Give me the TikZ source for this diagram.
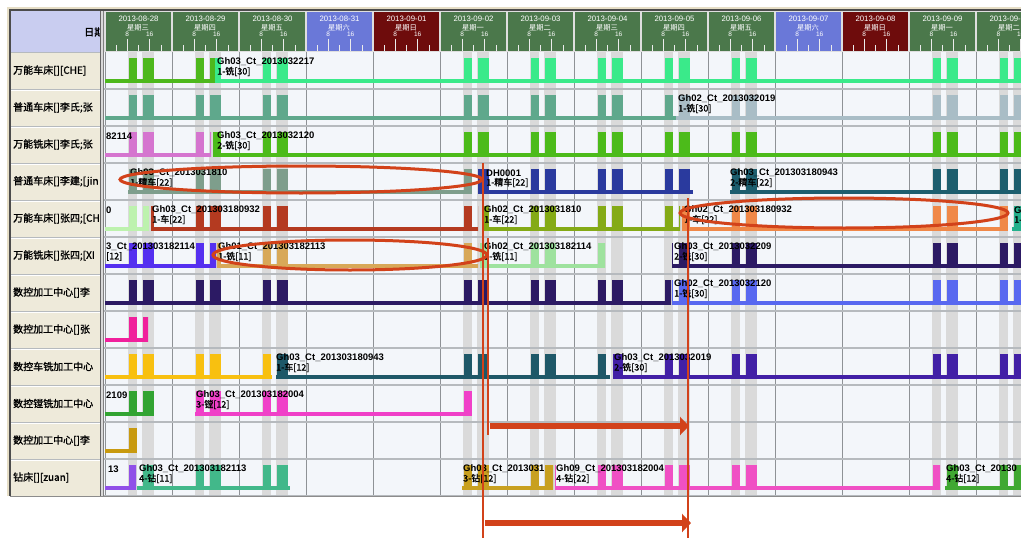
\documentclass[tikz,border=0pt]{standalone}
\usepackage{fontspec}
\newfontfamily\cjk[FakeBold=1.4]{Noto Sans CJK SC}
\newfontfamily\cjkthin{Noto Sans CJK SC}
\newfontfamily\lat{Liberation Sans}
\usetikzlibrary{arrows.meta}

% header and grid
\definecolor{wkday}{HTML}{4B784B}
\definecolor{satday}{HTML}{6A78D8}
\definecolor{sunday}{HTML}{6E0C0C}
\definecolor{cornercell}{HTML}{C9CDF0}
\definecolor{namecell}{HTML}{EEEADA}
\definecolor{chartbg}{HTML}{F3F6FA}
\definecolor{shiftgray}{HTML}{DADADA}
\definecolor{gridv}{HTML}{8E9296}
\definecolor{gridh}{HTML}{B6BABE}
\definecolor{frametan}{HTML}{E6DEC6}
\definecolor{annot}{HTML}{D2421A}
% job colours
\definecolor{c1a}{HTML}{4DB81C}\definecolor{c1b}{HTML}{3AEA8A}
\definecolor{c2a}{HTML}{5FA88C}\definecolor{c2b}{HTML}{A9BDC6}
\definecolor{c3a}{HTML}{D575CF}\definecolor{c3b}{HTML}{4CBB1A}
\definecolor{c4a}{HTML}{7E9E8C}\definecolor{c4b}{HTML}{2A3A9E}\definecolor{c4c}{HTML}{1D5E6E}
\definecolor{c5a}{HTML}{BDF2AE}\definecolor{c5b}{HTML}{B43A20}\definecolor{c5c}{HTML}{84AA16}
\definecolor{c5d}{HTML}{F08848}\definecolor{c5e}{HTML}{22B08C}
\definecolor{c6a}{HTML}{5530F0}\definecolor{c6b}{HTML}{D8A858}\definecolor{c6c}{HTML}{9EE29E}\definecolor{c6d}{HTML}{2C1A64}
\definecolor{c7a}{HTML}{2C1A64}\definecolor{c7b}{HTML}{5868F0}
\definecolor{c8a}{HTML}{F0209C}
\definecolor{c9a}{HTML}{F8C010}\definecolor{c9b}{HTML}{1E5868}\definecolor{c9c}{HTML}{4220A6}
\definecolor{c10a}{HTML}{32A432}\definecolor{c10b}{HTML}{F040C8}
\definecolor{c11a}{HTML}{C89A10}
\definecolor{c12a}{HTML}{9050E8}\definecolor{c12b}{HTML}{42B88A}\definecolor{c12c}{HTML}{C8A020}
\definecolor{c12d}{HTML}{F050C4}\definecolor{c12e}{HTML}{40A832}

\tikzset{
  barlabel/.style={anchor=west, inner sep=0pt, font=\fontsize{9.5}{10}\selectfont\lat\bfseries, text=black},
  barsub/.style={anchor=west, inner sep=0pt, font=\fontsize{9}{10}\selectfont\cjk, text=black},
  rowname/.style={anchor=west, inner sep=0pt, font=\fontsize{10}{11}\selectfont\cjk, text=black},
  daydate/.style={inner sep=0pt, font=\fontsize{7.8}{8}\selectfont\lat, text=white},
  dayname/.style={inner sep=0pt, font=\fontsize{7.3}{8}\selectfont\cjkthin, text=white},
  dayhour/.style={inner sep=0pt, font=\fontsize{6.5}{7}\selectfont\lat, text=white},
  redline/.style={draw=annot, line width=2.5pt},
  redring/.style={draw=annot, line width=3pt},
  redarrow/.style={draw=annot, line width=6pt, -{Triangle[length=9pt,width=18pt]}},
}

% one job on a machine row: baseline plus the working blocks of each weekday
\newcommand\jobbar[4]{%
  \begin{scope}
    \pgfmathsetmacro\segtop{52+37*(#1-1)}
    \clip (#2,\segtop) rectangle (#3,\segtop+37);
    \fill[#4] (#2,\segtop+26.5) rectangle (#3,\segtop+30.5);
    \foreach \k in {0,1,2,5,6,7,8,9,12,13}{
      \fill[#4] (105+67*\k+24,\segtop+6) rectangle ++(7.5,24.5);
      \fill[#4] (105+67*\k+38,\segtop+6) rectangle ++(11,24.5);
    }
  \end{scope}}

% two-line caption of a job
\newcommand\barnote[5]{%
  \pgfmathsetmacro\notetop{52+37*(#3-1)}
  \node[barlabel] (#1) at (#2,\notetop+10) {#4};
  \node[barsub] (#1b) at (#2,\notetop+19.5) {#5};}

\begin{document}
\begin{tikzpicture}[x=1pt,y=-1pt]
\useasboundingbox (0,0) rectangle (1021,538);
\clip (0,0) rectangle (1021,538);
\fill[white] (0,0) rectangle (1021,538);

% chart body
\fill[chartbg] (104,52) rectangle (1021,496);
\foreach \k in {0,1,2,5,6,7,8,9,12,13}{
  \fill[shiftgray] (105+67*\k+23,52) rectangle (105+67*\k+32,496);
  \fill[shiftgray] (105+67*\k+37,52) rectangle (105+67*\k+49,496);
}
\foreach \k in {0,...,14}
  \draw[gridv, line width=0.8pt] (105+67*\k,52) -- (105+67*\k,496);
\foreach \r in {1,...,12}
  \draw[gridh, line width=1.5pt] (104,52+37*\r) -- (1021,52+37*\r);

% jobs
\jobbar{1}{105}{215}{c1a}
\jobbar{1}{215}{1021}{c1b}
\jobbar{2}{105}{676}{c2a}
\jobbar{2}{676}{1021}{c2b}
\jobbar{3}{105}{211}{c3a}
\jobbar{3}{213}{1021}{c3b}
\jobbar{4}{128}{472}{c4a}
\jobbar{4}{478}{693}{c4b}
\jobbar{4}{730}{1021}{c4c}
\jobbar{5}{105}{149}{c5a}
\jobbar{5}{151}{478}{c5b}
\jobbar{5}{482}{680}{c5c}
\jobbar{5}{682}{1008}{c5d}
\jobbar{5}{1012}{1021}{c5e}
\jobbar{6}{105}{216}{c6a}
\jobbar{6}{217}{478}{c6b}
\jobbar{6}{480}{605}{c6c}
\jobbar{6}{672}{1021}{c6d}
\jobbar{7}{105}{671}{c7a}
\jobbar{7}{672}{1021}{c7b}
\jobbar{8}{105}{148}{c8a}
\jobbar{9}{105}{272}{c9a}
\jobbar{9}{276}{610}{c9b}
\jobbar{9}{613}{1021}{c9c}
\jobbar{10}{105}{154}{c10a}
\jobbar{10}{195}{472}{c10b}
\jobbar{11}{105}{137}{c11a}
\jobbar{12}{105}{136}{c12a}
\jobbar{12}{137}{290}{c12b}
\jobbar{12}{462}{553}{c12c}
\jobbar{12}{555}{940}{c12d}
\jobbar{12}{945}{1021}{c12e}

% job captions
\barnote{j1b}{217}{1}{Gh03\_Ct\_2013032217}{1-铣[30]}
\barnote{j2b}{678}{2}{Gh02\_Ct\_2013032019}{1-铣[30]}
\barnote{j3a}{106}{3}{82114}{}
\barnote{j3b}{217}{3}{Gh03\_Ct\_2013032120}{2-铣[30]}
\barnote{j4a}{130}{4}{Gh03\_Ct\_2013031810}{1-精车[22]}
\barnote{j4b}{486}{4}{DH0001}{1-精车[22]}
\barnote{j4c}{730}{4}{Gh03\_Ct\_201303180943}{2-精车[22]}
\barnote{j5a}{106}{5}{0}{}
\barnote{j5b}{152}{5}{Gh03\_Ct\_201303180932}{1-车[22]}
\barnote{j5c}{484}{5}{Gh02\_Ct\_2013031810}{1-车[22]}
\barnote{j5d}{684}{5}{Gh02\_Ct\_201303180932}{1-车[22]}
\barnote{j5e}{1014}{5}{G}{1-}
\barnote{j6a}{106}{6}{3\_Ct\_201303182114}{[12]}
\barnote{j6b}{218}{6}{Gh01\_Ct\_201303182113}{1-铣[11]}
\barnote{j6c}{484}{6}{Gh02\_Ct\_201303182114}{1-铣[11]}
\barnote{j6d}{674}{6}{Gh03\_Ct\_2013032209}{2-铣[30]}
\barnote{j7b}{674}{7}{Gh02\_Ct\_2013032120}{1-铣[30]}
\barnote{j9b}{276}{9}{Gh03\_Ct\_201303180943}{1-车[12]}
\barnote{j9c}{614}{9}{Gh03\_Ct\_2013032019}{2-铣[30]}
\barnote{j10a}{106}{10}{2109}{}
\barnote{j10b}{196}{10}{Gh03\_Ct\_201303182004}{3-镗[12]}
\barnote{j12a}{108}{12}{13}{}
\barnote{j12b}{139}{12}{Gh03\_Ct\_201303182113}{4-钻[11]}
\barnote{j12c}{463}{12}{Gh03\_Ct\_2013031}{3-钻[12]}
\barnote{j12d}{556}{12}{Gh09\_Ct\_201303182004}{4-钻[22]}
\barnote{j12e}{946}{12}{Gh03\_Ct\_20130}{4-钻[12]}

% machine name column
\fill[cornercell] (11,11) rectangle (100,52);
\fill[namecell] (11,52) rectangle (100,496);
\foreach \r in {1,...,11}{
  \draw[gridh, line width=1pt] (11,52+37*\r) -- (100,52+37*\r);
  \draw[white, line width=0.8pt] (11,53.5+37*\r) -- (100,53.5+37*\r);
}
\draw[gridh, line width=1pt] (11,52) -- (100,52);
\begin{scope}
  \clip (11,11) rectangle (99.5,496);
  \node[rowname, anchor=east] (datehead) at (104.5,32) {日期};
  \node[rowname] (m1) at (13,70.5) {万能车床[][CHE]};
  \node[rowname] (m2) at (13,107.5) {普通车床[]李氏;张};
  \node[rowname] (m3) at (13,144.5) {万能铣床[]李氏;张};
  \node[rowname] (m4) at (13,181.5) {普通车床[]李建;[jin};
  \node[rowname] (m5) at (13,218.5) {万能车床[]张四;[CH};
  \node[rowname] (m6) at (13,255.5) {万能铣床[]张四;[XI};
  \node[rowname] (m7) at (13,292.5) {数控加工中心[]李};
  \node[rowname] (m8) at (13,329.5) {数控加工中心[]张};
  \node[rowname] (m9) at (13,366.5) {数控车铣加工中心};
  \node[rowname] (m10) at (13,403.5) {数控镗铣加工中心};
  \node[rowname] (m11) at (13,440.5) {数控加工中心[]李};
  \node[rowname] (m12) at (13,477.5) {钻床[][zuan]};
\end{scope}
\fill[gray!30] (100,11) rectangle (104,496);
\draw[gray!80!black, line width=0.8pt] (100.5,11) -- (100.5,496);
\draw[gray, line width=0.8pt] (103.5,11) -- (103.5,496);

% day header: date, weekday, hour marks every four hours
\fill[gray!25] (104,11) rectangle (1021,52);
\foreach \k/\dd/\wkname/\col in {0/08-28/三/wkday, 1/08-29/四/wkday, 2/08-30/五/wkday,
    3/08-31/六/satday, 4/09-01/日/sunday, 5/09-02/一/wkday, 6/09-03/二/wkday,
    7/09-04/三/wkday, 8/09-05/四/wkday, 9/09-06/五/wkday, 10/09-07/六/satday,
    11/09-08/日/sunday, 12/09-09/一/wkday, 13/09-10/二/wkday}{
  \pgfmathsetmacro\dx{105+67*\k}
  \fill[\col] (\dx+1,12) rectangle (\dx+66,51);
  \node[daydate] (date\k) at (\dx+33.5,18.5) {2013-\dd};
  \node[dayname] (wday\k) at (\dx+33,27.5) {星期\wkname};
  \node[dayhour] (ha\k) at (\dx+22.3,34.5) {8};
  \node[dayhour] (hb\k) at (\dx+44.7,34.5) {16};
  \foreach \t in {11.2,33.5,55.8}
    \draw[white!85!gray, line width=0.6pt] (\dx+\t,45) -- (\dx+\t,50.5);
  \foreach \t in {22.3,44.7}
    \draw[white!85!gray, line width=0.6pt] (\dx+\t,38.5) -- (\dx+\t,50.5);
}

% outer frame
\draw[frametan, line width=1.5pt] (8,496) -- (8,8) -- (1021,8);
\draw[black!70, line width=1.5pt] (10,496) -- (10,10) -- (1021,10);
\draw[black!45, line width=1pt] (10,496) -- (1021,496);

% annotations
\draw[redring] (301,179.5) ellipse [x radius=181pt, y radius=13.5pt];
\draw[redring] (844,213) ellipse [x radius=164pt, y radius=15pt];
\draw[redring] (350,255) ellipse [x radius=137pt, y radius=15pt];
\coordinate (va1) at (483,163);
\coordinate (vb1) at (483,538);
\coordinate (va2) at (488,238);
\coordinate (vb2) at (488,435);
\coordinate (va3) at (688,198);
\coordinate (vb3) at (688,538);
\draw[redline] (va1) -- (vb1);
\draw[redline] (va2) -- (vb2);
\draw[redline] (va3) -- (vb3);
\coordinate (aa1) at (490,426);
\coordinate (ab1) at (689,426);
\coordinate (aa2) at (485,523);
\coordinate (ab2) at (691,523);
\draw[redarrow] (aa1) -- (ab1);
\draw[redarrow] (aa2) -- (ab2);
\end{tikzpicture}
\end{document}
